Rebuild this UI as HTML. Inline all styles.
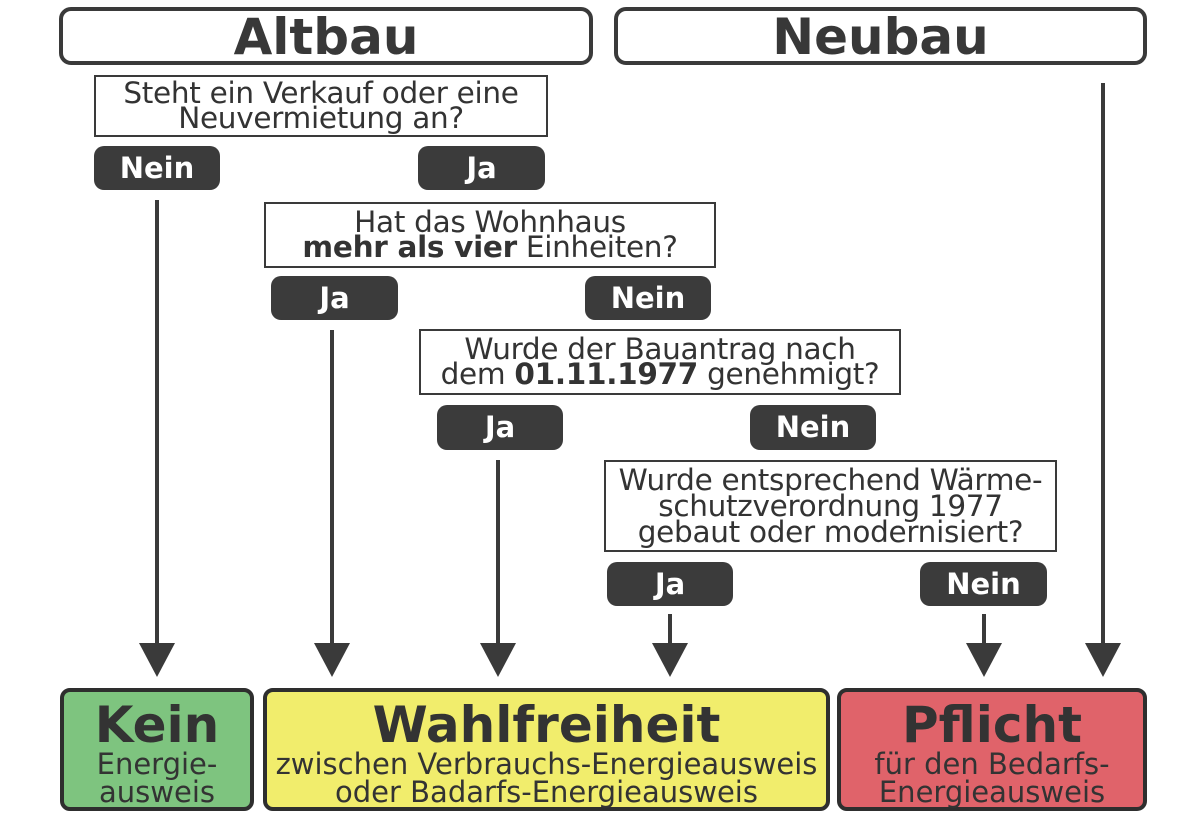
<!DOCTYPE html>
<html><head><meta charset="utf-8"><style>
body{margin:0;width:1180px;height:813px;background:#fff;position:relative;overflow:hidden;font-family:"DejaVu Sans","Liberation Sans",sans-serif;color:#333}
.a{position:absolute;box-sizing:border-box;text-align:center}
.hdr{border:4px solid #3a3a3a;border-radius:12px;font-weight:bold;font-size:50px;line-height:52px;color:#383838}
.q{border:2.5px solid #3a3a3a;font-size:29.5px;line-height:25px;color:#333;display:flex;flex-direction:column;justify-content:center;white-space:nowrap;letter-spacing:-0.3px}
.p{background:#3b3b3b;border-radius:10px;color:#fff;font-weight:bold;font-size:29px;line-height:44px}
.r{border:4px solid #2e2e2e;border-radius:10px;color:#333}
.r b{display:block;font-size:50px;line-height:50px;margin-top:8px}
.r span{display:block;font-size:29px;line-height:28px;white-space:nowrap}
</style></head><body>
<div class="a hdr" style="left:59px;top:7px;width:534px;height:58px">Altbau</div>
<div class="a hdr" style="left:614px;top:7px;width:533px;height:58px">Neubau</div>

<div class="a q" style="left:94px;top:75px;width:454px;height:62px"><div>Steht ein Verkauf oder eine<br>Neuvermietung an?</div></div>
<div class="a p" style="left:94px;top:146px;width:126px;height:44px">Nein</div>
<div class="a p" style="left:418px;top:146px;width:127px;height:44px">Ja</div>

<div class="a q" style="left:264px;top:202px;width:452px;height:66px"><div>Hat das Wohnhaus<br><b>mehr als vier</b> Einheiten?</div></div>
<div class="a p" style="left:271px;top:276px;width:127px;height:44px">Ja</div>
<div class="a p" style="left:585px;top:276px;width:126px;height:44px">Nein</div>

<div class="a q" style="left:419px;top:329px;width:482px;height:66px"><div>Wurde der Bauantrag nach<br>dem <b>01.11.1977</b> genehmigt?</div></div>
<div class="a p" style="left:437px;top:405px;width:126px;height:45px">Ja</div>
<div class="a p" style="left:750px;top:405px;width:126px;height:45px">Nein</div>

<div class="a q" style="left:604px;top:460px;width:453px;height:92px;line-height:26px"><div>Wurde entsprechend Wärme-<br>schutzverordnung 1977<br>gebaut oder modernisiert?</div></div>
<div class="a p" style="left:607px;top:562px;width:126px;height:44px">Ja</div>
<div class="a p" style="left:920px;top:562px;width:127px;height:44px">Nein</div>

<svg class="a" style="left:0;top:0" width="1180" height="813">
<g stroke="#3a3a3a" stroke-width="4">
<line x1="157" y1="200" x2="157" y2="645"/>
<line x1="332" y1="330" x2="332" y2="645"/>
<line x1="498" y1="460" x2="498" y2="645"/>
<line x1="670" y1="614" x2="670" y2="645"/>
<line x1="984" y1="614" x2="984" y2="645"/>
<line x1="1103" y1="83" x2="1103" y2="645"/>
</g>
<g fill="#3a3a3a">
<polygon points="139,643 175,643 157,677"/>
<polygon points="314,643 350,643 332,677"/>
<polygon points="480,643 516,643 498,677"/>
<polygon points="652,643 688,643 670,677"/>
<polygon points="966,643 1002,643 984,677"/>
<polygon points="1085,643 1121,643 1103,677"/>
</g>
</svg>

<div class="a r" style="left:60px;top:688px;width:194px;height:123px;background:#7ec47f"><b>Kein</b><span>Energie-<br>ausweis</span></div>
<div class="a r" style="left:263px;top:688px;width:567px;height:123px;background:#f1ed6c"><b>Wahlfreiheit</b><span>zwischen Verbrauchs-Energieausweis<br>oder Badarfs-Energieausweis</span></div>
<div class="a r" style="left:837px;top:688px;width:310px;height:123px;background:#e0636a"><b>Pflicht</b><span>für den Bedarfs-<br>Energieausweis</span></div>
</body></html>
